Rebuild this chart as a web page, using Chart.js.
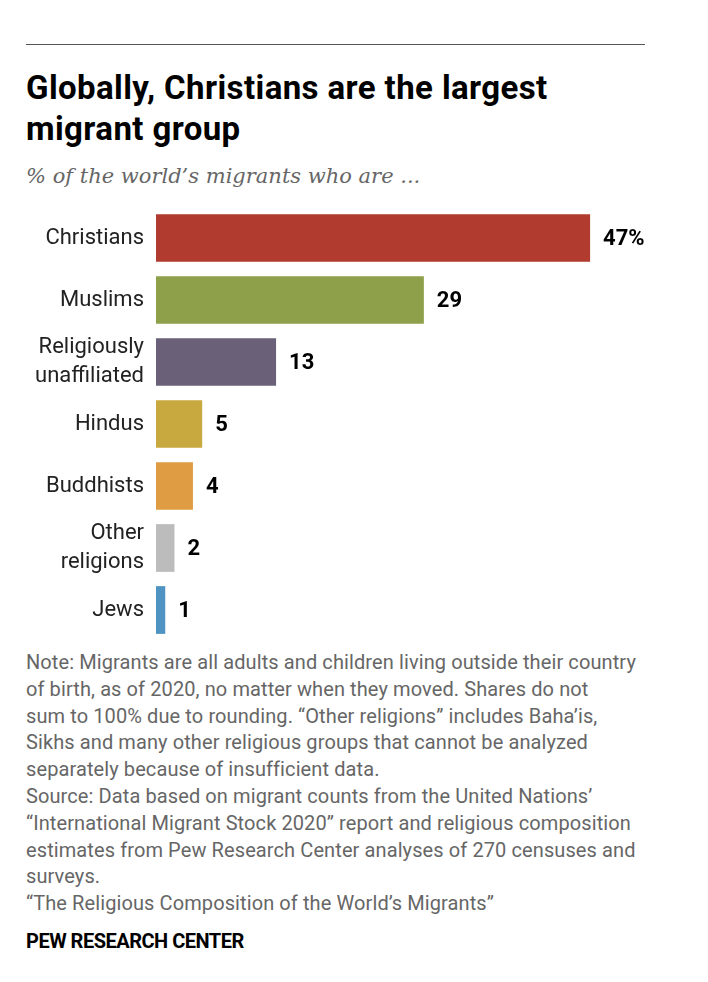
<!DOCTYPE html>
<html>
<head>
<meta charset="utf-8">
<script src="https://cdn.jsdelivr.net/npm/chart.js@4.4.0/dist/chart.umd.min.js"></script>
<style>
  html, body { margin: 0; padding: 0; background: #fff; }
  body { width: 708px; height: 982px; position: relative; overflow: hidden; font-family: Roboto, sans-serif; }
  .rule { position: absolute; left: 26px; top: 44px; width: 619px; height: 0; border-top: 1px solid #555; }
  .title { position: absolute; left: 26px; top: 67px; font: bold 33px/41px Roboto, sans-serif; color: #000; white-space: nowrap; letter-spacing: 0.4px; }
  .subtitle { position: absolute; left: 26px; top: 164px; font: italic 21px/24px "DejaVu Serif", serif; color: #666; white-space: nowrap; }
  .chart { position: absolute; left: 0; top: 200px; width: 708px; height: 445px; }
  .note { position: absolute; left: 26px; top: 649px; font: 20px/26.8px Roboto, sans-serif; color: #666; white-space: nowrap; letter-spacing: 0.1px; }
  .brand { position: absolute; left: 26px; top: 929px; font: bold 20px/24px Roboto, sans-serif; color: #000; white-space: nowrap; letter-spacing: -0.5px; }
</style>
</head>
<body>
<div class="rule"></div>
<div class="title">Globally, Christians are the largest<br>migrant group</div>
<div class="subtitle">% of the world’s migrants who are ...</div>
<div class="chart"><canvas id="migrantChart"></canvas></div>
<div class="note">Note: Migrants are all adults and children living outside their country<br>of birth, as of 2020, no matter when they moved. Shares do not<br>sum to 100% due to rounding. “Other religions” includes Baha’is,<br>Sikhs and many other religious groups that cannot be analyzed<br>separately because of insufficient data.<br>Source: Data based on migrant counts from the United Nations’<br>“International Migrant Stock 2020” report and religious composition<br>estimates from Pew Research Center analyses of 270 censuses and<br>surveys.<br>“The Religious Composition of the World’s Migrants”</div>
<div class="brand">PEW RESEARCH CENTER</div>

<script>
// data
const religions = [
  "Christians",
  "Muslims",
  ["Religiously", "unaffiliated"],
  "Hindus",
  "Buddhists",
  ["Other", "religions"],
  "Jews",
];
const shares = [47, 29, 13, 5, 4, 2, 1];
const barColors = ["#b03b2e", "#8ea14a", "#6a6078", "#c8a93f", "#df9c42", "#bcbcbc", "#4f93c2"];

// value labels at the end of each bar
const valueLabels = {
  id: "valueLabels",
  afterDatasetsDraw(chart) {
    const ctx = chart.ctx;
    const meta = chart.getDatasetMeta(0);
    ctx.save();
    ctx.font = "bold 22px Roboto, sans-serif";
    ctx.fillStyle = "#000";
    ctx.textAlign = "left";
    ctx.textBaseline = "middle";
    meta.data.forEach(function (bar, i) {
      const txt = i === 0 ? shares[i] + "%" : String(shares[i]);
      ctx.fillText(txt, bar.x + 13, bar.y + 1);
    });
    ctx.restore();
  },
};

new Chart(document.getElementById("migrantChart"), {
  type: "bar",
  data: {
    labels: religions,
    datasets: [
      {
        data: shares,
        backgroundColor: barColors,
        borderWidth: 0,
        barPercentage: 0.77,
        categoryPercentage: 1,
      },
    ],
  },
  options: {
    indexAxis: "y",
    responsive: true,
    maintainAspectRatio: false,
    animation: false,
    layout: { padding: { top: 7, bottom: 4, left: 0, right: 44 } },
    plugins: {
      legend: { display: false },
      tooltip: { enabled: false },
    },
    scales: {
      x: { display: false, min: 0, max: 55 },
      y: {
        grid: { display: false, drawTicks: false },
        border: { display: false },
        ticks: {
          color: "#222",
          padding: 12,
          font: { family: "Roboto", size: 22, lineHeight: 1.3 },
        },
        afterFit(scale) {
          scale.width = 156;
          scale.paddingTop = 0;
          scale.paddingBottom = 0;
        },
      },
    },
  },
  plugins: [valueLabels],
});
</script>
</body>
</html>
